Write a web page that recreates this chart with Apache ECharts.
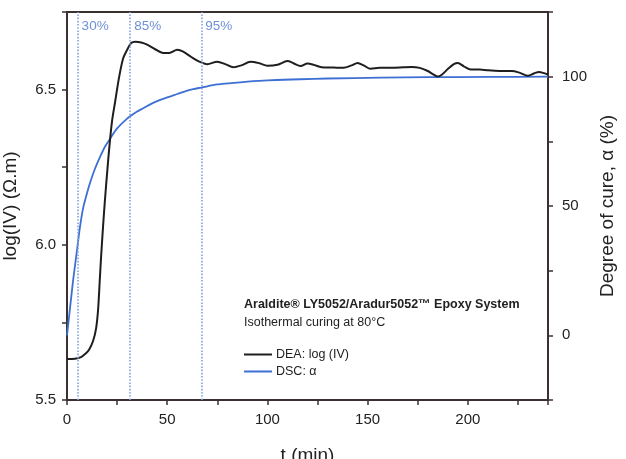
<!DOCTYPE html>
<html>
<head>
<meta charset="utf-8">
<script src="https://cdn.jsdelivr.net/npm/echarts@6/dist/echarts.min.js"></script>
<style>
  html, body { margin: 0; padding: 0; background: #fff; }
  #main { width: 626px; height: 459px; }
</style>
</head>
<body>
<div id="main"></div>
<script>
// DEA: log(IV) against time (min)
var deaT = [0, 4, 7, 9, 11, 13, 14.5, 15.5, 16.3, 17, 18, 19, 20, 21.2, 22.5, 24, 26, 28, 30, 32, 34, 37, 40, 44, 48, 51, 55, 58, 62, 66, 70, 75, 79, 83, 87, 91.5, 96, 100, 105, 110, 113, 116.5, 120, 123, 127, 133, 138, 142, 145, 148, 151.5, 156, 162, 168, 172, 176, 180, 183, 185, 187, 190, 193, 195, 198, 201.5, 206, 210, 216, 222, 226, 230, 233, 235.5, 238, 240];
var deaLog = [5.632, 5.633, 5.638, 5.648, 5.662, 5.69, 5.73, 5.79, 5.88, 5.96, 6.06, 6.15, 6.23, 6.32, 6.40, 6.46, 6.54, 6.60, 6.628, 6.65, 6.654, 6.652, 6.645, 6.63, 6.618, 6.618, 6.628, 6.622, 6.605, 6.59, 6.582, 6.59, 6.582, 6.572, 6.578, 6.59, 6.585, 6.577, 6.58, 6.592, 6.585, 6.576, 6.584, 6.58, 6.572, 6.571, 6.57, 6.578, 6.586, 6.578, 6.567, 6.57, 6.57, 6.572, 6.573, 6.57, 6.56, 6.548, 6.542, 6.548, 6.566, 6.582, 6.586, 6.575, 6.565, 6.565, 6.562, 6.56, 6.56, 6.554, 6.545, 6.552, 6.557, 6.553, 6.548];

// DSC: degree of cure (%) against time (min)
var dscT = [0, 1, 2, 3, 4, 5, 6.5, 8, 10, 11.5, 14, 16.5, 19, 21.5, 25, 30, 35, 38, 42, 46.5, 50, 55, 60, 63, 67, 75, 83, 90, 100, 116.5, 130, 156.5, 180, 210, 240];
var dscAlpha = [0, 7, 14, 21, 27, 33, 42, 49, 55, 59, 64.5, 69, 73, 76, 80, 83.8, 86.5, 87.8, 89.5, 91, 92, 93.3, 94.6, 95.2, 95.8, 97, 97.6, 98.1, 98.6, 99, 99.3, 99.6, 99.8, 99.9, 100];

// cure markers
var markerT = [5.3, 31.5, 67];
var markerLabels = ['30%', '85%', '95%'];
var markerLabelLevel = 6.705;

var axisColor = '#3b3030';
var textFont = 'Liberation Sans';

function pairs(xs, ys) {
  return xs.map(function (x, i) { return [x, ys[i]]; });
}

var chart = echarts.init(document.getElementById('main'));

var option = {
  animation: false,
  backgroundColor: '#fff',
  textStyle: { fontFamily: textFont },
  grid: {
    left: 67, right: 78, top: 12, bottom: 59,
    outerBoundsMode: 'none', containLabel: false,
    show: true, borderColor: axisColor, borderWidth: 2, backgroundColor: 'transparent'
  },
  legend: {
    data: ['DEA: log (IV)', 'DSC: α'],
    orient: 'vertical',
    left: 244, top: 348, padding: 0,
    icon: 'rect', itemWidth: 28, itemHeight: 2, itemGap: 4,
    textStyle: { fontSize: 12.5, color: '#222', fontFamily: textFont, padding: [0, 0, 0, -1] }
  },
  graphic: [
    {
      type: 'text', left: 244, top: 298,
      style: {
        text: 'Araldite® LY5052/Aradur5052™ Epoxy System',
        font: 'bold 12.5px "Liberation Sans"', fill: '#222'
      }
    },
    {
      type: 'text', left: 244, top: 316,
      style: {
        text: 'Isothermal curing at 80°C',
        font: '12.5px "Liberation Sans"', fill: '#222'
      }
    }
  ],
  xAxis: {
    type: 'value', min: 0, max: 240, interval: 25,
    name: 't (min)', nameLocation: 'middle', nameGap: 46,
    nameTextStyle: { fontSize: 19, color: '#222' },
    axisLine: { onZero: false, lineStyle: { color: axisColor, width: 2 } },
    axisTick: { lineStyle: { color: axisColor, width: 1.5 }, length: 5 },
    axisLabel: {
      fontSize: 15, color: '#222', margin: 12,
      formatter: function (v) { return v % 50 === 0 ? String(v) : ''; }
    },
    splitLine: { show: false }
  },
  yAxis: [
    {
      type: 'value', min: 5.5, max: 6.75, interval: 0.25,
      name: 'log(IV) (Ω.m)', nameLocation: 'middle', nameGap: 47,
      nameTextStyle: { fontSize: 19, color: '#222' },
      axisLine: { show: true, onZero: false, lineStyle: { color: axisColor, width: 2 } },
      axisTick: { show: true, lineStyle: { color: axisColor, width: 1.5 }, length: 5 },
      axisLabel: {
        fontSize: 15, color: '#222', margin: 11,
        formatter: function (v) {
          var d = v * 2;
          return (Math.abs(d - Math.round(d)) < 1e-6 && v < 6.7) ? v.toFixed(1) : '';
        }
      },
      splitLine: { show: false }
    },
    {
      type: 'value', min: -25, max: 125, interval: 25, position: 'right',
      name: 'Degree of cure, α (%)', nameLocation: 'middle', nameGap: 50,
      nameTextStyle: { fontSize: 19, color: '#222' },
      axisLine: { show: true, onZero: false, lineStyle: { color: axisColor, width: 2 } },
      axisTick: { show: true, lineStyle: { color: axisColor, width: 1.5 }, length: 5 },
      axisLabel: {
        fontSize: 15, color: '#222', margin: 14,
        formatter: function (v) { return (v === 0 || v === 50 || v === 100) ? String(v) : ''; }
      },
      splitLine: { show: false }
    }
  ],
  series: [
    {
      name: 'DEA: log (IV)', type: 'line', yAxisIndex: 0,
      data: pairs(deaT, deaLog),
      symbol: 'none', smooth: 0.3, z: 3,
      lineStyle: { color: '#1e1e1e', width: 2 },
      itemStyle: { color: '#1e1e1e' },
      markLine: {
        silent: true, symbol: ['none', 'none'],
        label: { show: false },
        lineStyle: { type: 'dotted', color: '#86a3e0', width: 1.6 },
        data: markerT.map(function (t) { return { xAxis: t }; })
      }
    },
    {
      name: 'DSC: α', type: 'line', yAxisIndex: 1,
      data: pairs(dscT, dscAlpha),
      symbol: 'none', smooth: 0.3, z: 2,
      lineStyle: { color: '#3d6fd4', width: 1.8 },
      itemStyle: { color: '#3d6fd4' }
    },
    {
      name: 'markers', type: 'scatter', yAxisIndex: 0,
      symbolSize: 0, silent: true,
      data: markerT.map(function (t, i) {
        return { value: [t, markerLabelLevel], name: markerLabels[i] };
      }),
      label: {
        show: true, position: 'right', distance: 4, formatter: '{b}',
        fontSize: 13.5, color: '#4a73cc', fontFamily: textFont
      }
    }
  ]
};

chart.setOption(option);
</script>
</body>
</html>
